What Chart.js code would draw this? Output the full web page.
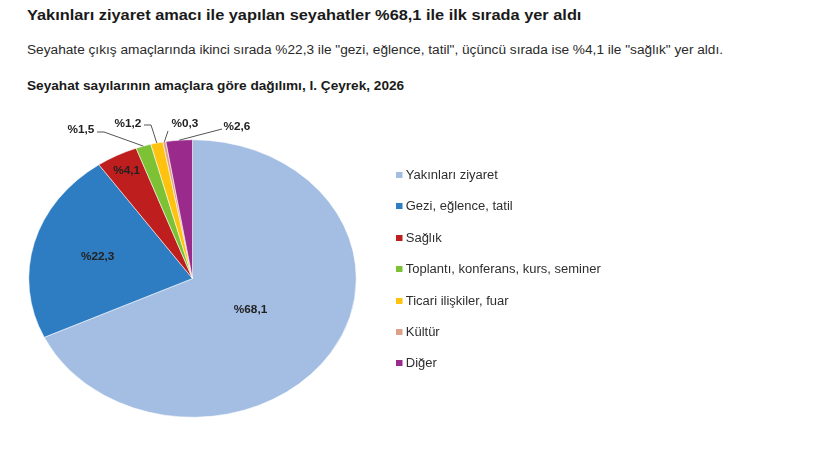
<!DOCTYPE html>
<html><head><meta charset="utf-8">
<script src="https://cdn.jsdelivr.net/npm/chart.js@4/dist/chart.umd.min.js"></script>
<style>
html,body{margin:0;padding:0;background:#fff;width:820px;height:462px;overflow:hidden;font-family:"Liberation Sans",Arial,sans-serif;}
.t{position:absolute;left:27px;white-space:nowrap;color:#1a1a1a;transform-origin:0 50%;}
#title{top:5px;font-size:15px;line-height:20px;font-weight:bold;transform:scaleX(1.09);}
#sub{top:42px;font-size:12.5px;line-height:16px;color:#2a2a2a;transform:scaleX(1.093);}
#ctitle{top:78px;font-size:12.5px;line-height:16px;font-weight:bold;transform:scaleX(1.09);}
#wrap{position:absolute;left:0;top:0;width:820px;height:462px;}
#legend{position:absolute;left:396px;top:0;}
.li{position:absolute;left:0;white-space:nowrap;font-size:12px;line-height:16px;color:#2e2e2e;transform-origin:0 50%;transform:scaleX(1.083);}
.sw{display:inline-block;width:6px;height:6px;margin-right:3px;vertical-align:1px;}
</style></head><body>
<div class="t" id="title">Yakınları ziyaret amacı ile yapılan seyahatler %68,1 ile ilk sırada yer aldı</div>
<div class="t" id="sub">Seyahate çıkış amaçlarında ikinci sırada %22,3 ile "gezi, eğlence, tatil", üçüncü sırada ise %4,1 ile "sağlık" yer aldı.</div>
<div class="t" id="ctitle">Seyahat sayılarının amaçlara göre dağılımı, I. Çeyrek, 2026</div>
<div id="wrap"><canvas id="c" width="820" height="462"></canvas></div>
<div id="legend"></div>
<script>
const categories = ["Yakınları ziyaret","Gezi, eğlence, tatil","Sağlık","Toplantı, konferans, kurs, seminer","Ticari ilişkiler, fuar","Kültür","Diğer"];
const values = [68.1, 22.3, 4.1, 1.5, 1.2, 0.3, 2.6];
const valueLabels = ["%68,1","%22,3","%4,1","%1,5","%1,2","%0,3","%2,6"];
const colors = ["#A3BDE3","#2E7DC2","#BE1E1E","#7CC234","#FFC20E","#DDA088","#9A2A8C"];

const SX = 1.18; // horizontal stretch of the pie (ellipse in reference)
const TX = 1.07; // horizontal stretch of label text

// HTML legend
const legend = document.getElementById('legend');
categories.forEach((c,i)=>{
  const d = document.createElement('div');
  d.className='li';
  d.style.top = (167 + i*31.4) + 'px';
  d.innerHTML = '<span class="sw" style="background:'+colors[i]+'"></span>'+c;
  legend.appendChild(d);
});

const ellipsePlugin = {
  id:'ellipse',
  beforeDatasetsDraw(chart){
    const a = chart.getDatasetMeta(0).data[0];
    const ctx = chart.ctx;
    ctx.save();
    ctx.translate(a.x,a.y); ctx.scale(SX,1); ctx.translate(-a.x,-a.y);
  },
  afterDatasetsDraw(chart){ chart.ctx.restore(); }
};

function stretchedText(ctx, txt, x, y){
  ctx.save();
  ctx.translate(x,y); ctx.scale(TX,1);
  ctx.fillText(txt,0,0);
  ctx.restore();
}

const labelPlugin = {
  id:'sliceLabels',
  afterDraw(chart, args, opts){
    const ctx = chart.ctx;
    const arcs = chart.getDatasetMeta(0).data;
    ctx.save();
    ctx.font = 'bold 11px "Liberation Sans", Arial, sans-serif';
    ctx.textAlign='center'; ctx.textBaseline='middle';
    ctx.fillStyle='#222';
    ctx.strokeStyle='#555'; ctx.lineWidth=1;
    arcs.forEach((a,i)=>{
      const mid = (a.startAngle + a.endAngle)/2;
      const cfg = opts.place[i];
      if (cfg.inside !== undefined){
        const r = a.outerRadius*cfg.inside;
        stretchedText(ctx, valueLabels[i], a.x + SX*r*Math.cos(mid), a.y + r*Math.sin(mid));
      } else {
        const ex = a.x + SX*a.outerRadius*Math.cos(mid);
        const ey = a.y + a.outerRadius*Math.sin(mid);
        ctx.beginPath();
        ctx.moveTo(cfg.line[0][0], cfg.line[0][1]);
        for (let k=1;k<cfg.line.length;k++) ctx.lineTo(cfg.line[k][0], cfg.line[k][1]);
        ctx.lineTo(ex, ey);
        ctx.stroke();
        stretchedText(ctx, valueLabels[i], cfg.text[0], cfg.text[1]);
      }
    });
    ctx.restore();
  }
};

new Chart(document.getElementById('c'), {
  type:'pie',
  data:{ labels:categories, datasets:[{ data:values, backgroundColor:colors, borderColor:'#ffffff', borderWidth:0.5 }]},
  options:{
    responsive:false, animation:false, events:[],
    layout:{ padding:{ left:53.5, right:488.5, top:139.5, bottom:44.5 } },
    plugins:{
      legend:{display:false}, tooltip:{enabled:false},
      sliceLabels:{ place:[
        {inside:0.42},
        {inside:0.6},
        {inside:0.87},
        {text:[81,130], line:[[97,132],[104,132]]},
        {text:[128,124], line:[[144,125],[151,125]]},
        {text:[185,124], line:[[168,131]]},
        {text:[237,127], line:[[222,129]]}
      ]}
    }
  },
  plugins:[ellipsePlugin, labelPlugin]
});
</script>
</body></html>
